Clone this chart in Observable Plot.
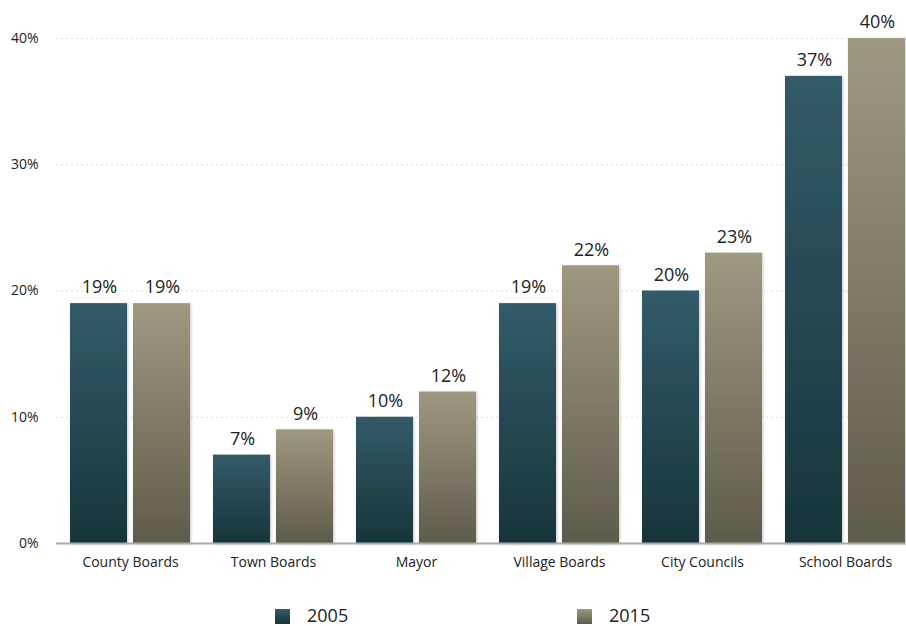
<!DOCTYPE html>
<html>
<head>
<meta charset="utf-8">
<script src="https://cdn.jsdelivr.net/npm/d3@7"></script>
<script src="https://cdn.jsdelivr.net/npm/@observablehq/plot@0.6"></script>
<style>
  html, body { margin: 0; padding: 0; background: #fff; overflow: hidden; width: 906px; height: 626px; }
  #wrap { position: relative; width: 906px; height: 626px; font-family: "Open Sans", Lato, sans-serif; }
  #chart svg { overflow: hidden; display: block; }
  .leg { position: absolute; top: 605px; height: 20px; line-height: 20px; display: flex; align-items: center; font-size: 18px; color: #222; }
  .sw { width: 15px; height: 15px; margin-right: 17px; margin-top: 2px; }
</style>
</head>
<body>
<div id="wrap">
  <div id="chart"></div>
  <div class="leg" style="left:275px"><div class="sw" style="background:linear-gradient(#335b69,#17353a)"></div><span id="l0"></span></div>
  <div class="leg" style="left:577px"><div class="sw" style="background:linear-gradient(#9f9982,#5f5b4b)"></div><span id="l1"></span></div>
</div>
<script>
const categories = ["County Boards", "Town Boards", "Mayor", "Village Boards", "City Councils", "School Boards"];
const series = ["2005", "2015"];
const values2005 = [19, 7, 10, 19, 20, 37];
const values2015 = [19, 9, 12, 22, 23, 40];
const yTicks = [0, 10, 20, 30, 40];

document.getElementById("l0").textContent = series[0];
document.getElementById("l1").textContent = series[1];

const d05 = categories.map((c, i) => ({category: c, value: values2005[i]}));
const d15 = categories.map((c, i) => ({category: c, value: values2015[i]}));

const half = 63;
const chart = Plot.plot({
  width: 906,
  height: 585,
  marginLeft: 56,
  marginRight: 0,
  marginTop: 38,
  marginBottom: 42,
  style: {fontFamily: "'Open Sans', Lato, sans-serif", fontSize: "14px", color: "#222", background: "white", overflow: "hidden"},
  x: {domain: categories, range: [56.5, 919], paddingInner: 0.16, paddingOuter: 0.076, tickSize: 0, tickPadding: 14, label: null},
  y: {domain: [0, 40], ticks: yTicks, tickFormat: d => d + "%", tickSize: 0, tickPadding: 18, label: null},
  marks: [
    Plot.ruleY(yTicks.filter(d => d > 0), {stroke: "#dcdcdc", strokeDasharray: "2,3", strokeWidth: 1}),
    Plot.barY(d05, {x: "category", y: "value", fill: "url(#g2005)", insetRight: half}),
    Plot.barY(d15, {x: "category", y: "value", fill: "url(#g2015)", insetLeft: half}),
    Plot.ruleY([0], {stroke: "#aaaaaa", strokeWidth: 2}),
    Plot.text(d05, {x: "category", y: "value", text: d => d.value + "%", dx: -31, dy: -16, fontSize: 18, fill: "#222"}),
    Plot.text(d15, {x: "category", y: "value", text: d => d.value + "%", dx: 32, dy: -16, fontSize: 18, fill: "#222"})
  ]
});

const svg = d3.select(chart);
const defs = svg.insert("defs", ":first-child");
const g1 = defs.append("linearGradient").attr("id", "g2005").attr("x1", 0).attr("y1", 0).attr("x2", 0).attr("y2", 1);
g1.append("stop").attr("offset", "0%").attr("stop-color", "#335b69");
g1.append("stop").attr("offset", "100%").attr("stop-color", "#17353a");
const g2 = defs.append("linearGradient").attr("id", "g2015").attr("x1", 0).attr("y1", 0).attr("x2", 0).attr("y2", 1);
g2.append("stop").attr("offset", "0%").attr("stop-color", "#9f9982");
g2.append("stop").attr("offset", "100%").attr("stop-color", "#5f5b4b");
const f = defs.append("filter").attr("id", "shadow").attr("x", "-10%").attr("y", "-10%").attr("width", "130%").attr("height", "130%");
f.append("feDropShadow").attr("dx", 1).attr("dy", 1).attr("stdDeviation", 1.5).attr("flood-color", "#000").attr("flood-opacity", 0.22);
svg.selectAll("rect").filter(function() { return (this.getAttribute("fill") || "").startsWith("url(") || (this.parentNode.getAttribute("fill") || "").startsWith("url("); }).attr("filter", "url(#shadow)");

document.getElementById("chart").appendChild(chart);
</script>
</body>
</html>
